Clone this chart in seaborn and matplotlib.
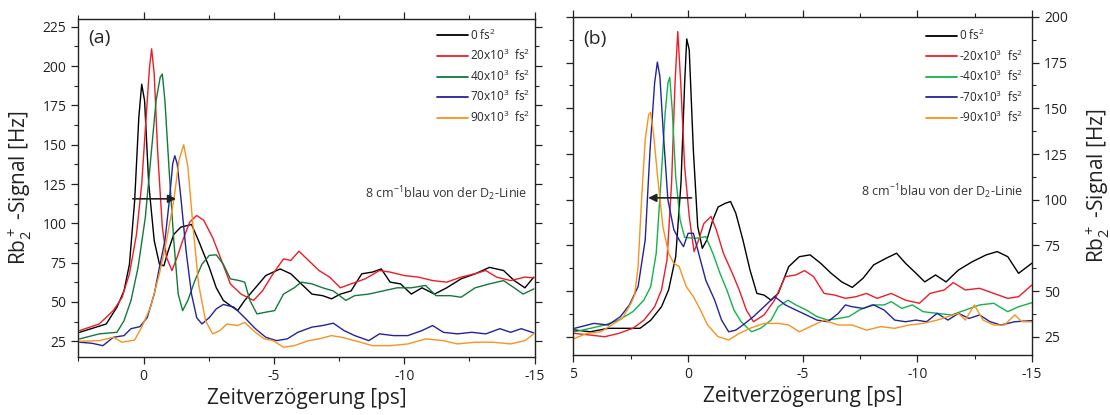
import numpy as np
import pandas as pd
import matplotlib
matplotlib.use("Agg")
import matplotlib.pyplot as plt
from matplotlib.ticker import MultipleLocator
import seaborn as sns

# ---------------- data: panel (a) ----------------
a_labels = ["0 fs$^2$", "20x10$^3$  fs$^2$", "40x10$^3$  fs$^2$", "70x10$^3$  fs$^2$", "90x10$^3$  fs$^2$"]
a_colors = ["#000000", "#ee1c25", "#117a3a", "#23239c", "#f7931e"]

a0_t = [2.45, 1.43, 1.02, 0.75, 0.54, 0.34, 0.18, 0.07, -0.04, -0.2, -0.41, -0.61, -0.78, -0.95, -1.16, -1.43, -1.70, -1.84, -2.11, -2.52, -2.79, -3.06, -3.33, -3.61, -3.88, -4.29, -4.69, -5.24, -5.65, -6.05, -6.46, -6.87, -7.21, -7.55, -7.96, -8.37, -8.78, -9.12, -9.46, -9.86, -10.27, -10.68, -11.16, -11.63, -12.18, -12.72, -13.27, -13.81, -14.22, -14.63, -14.97]
a0_y = [30.7, 36, 46.7, 57, 74, 114.6, 167.7, 188.5, 178, 125, 89, 74, 73, 82.7, 93, 97.6, 98.7, 99.3, 89, 72, 59, 51, 47.7, 44.5, 51, 59, 66.8, 71, 67.9, 61.5, 55, 54, 52, 55, 57, 67.9, 69, 71, 62.6, 61.5, 55, 59, 55, 59, 64.7, 67.9, 72, 70, 63.6, 59, 65.8]

a1_t = [2.45, 1.70, 1.16, 0.82, 0.54, 0.27, 0.07, -0.1, -0.23, -0.31, -0.41, -0.54, -0.72, -0.88, -1.09, -1.29, -1.50, -1.77, -2.04, -2.31, -2.65, -3.0, -3.33, -3.74, -4.22, -4.56, -4.97, -5.37, -5.65, -5.96, -6.33, -6.73, -7.14, -7.55, -7.96, -8.50, -9.05, -9.46, -10.0, -10.54, -11.09, -11.63, -12.18, -12.72, -13.13, -13.54, -14.08, -14.63, -14.97]
a1_y = [31.8, 36, 44.5, 53, 68, 93, 125, 167.7, 199.5, 211, 195, 146, 97.6, 78.5, 70, 78.5, 89, 100.8, 105, 101.9, 91, 76, 61.5, 55, 51, 57, 68, 77.4, 76.4, 82.3, 76.4, 70, 65.8, 59, 61.5, 64.7, 70, 69, 66.8, 65.8, 63.6, 62.6, 65.8, 68, 70, 65.8, 63.6, 65.8, 65.3]

a2_t = [2.45, 1.70, 1.02, 0.75, 0.48, 0.21, -0.07, -0.27, -0.48, -0.64, -0.72, -0.82, -0.99, -1.16, -1.33, -1.50, -1.70, -1.97, -2.24, -2.52, -2.79, -3.06, -3.33, -3.67, -3.88, -4.08, -4.35, -4.69, -5.03, -5.37, -5.78, -6.05, -6.46, -6.87, -7.28, -7.76, -8.10, -8.64, -9.18, -9.73, -10.27, -10.82, -11.22, -11.77, -12.18, -12.72, -13.27, -13.81, -14.22, -14.56, -14.97]
a2_y = [26.5, 29.7, 30.7, 38, 51, 72, 104, 140, 178, 193, 195, 178, 131.6, 89, 55, 44.5, 51, 63.6, 74, 79.6, 80, 74, 64.7, 63.6, 62.6, 51, 42.4, 43.5, 44.5, 55, 59, 62.6, 61.5, 59, 57, 51, 54, 55, 57, 59, 59, 60.5, 54, 54, 53, 59, 61.5, 63.6, 59, 55, 58.3]

a3_t = [2.45, 1.97, 1.56, 1.16, 0.75, 0.48, 0.14, -0.14, -0.41, -0.61, -0.82, -0.99, -1.12, -1.20, -1.29, -1.43, -1.63, -1.84, -2.04, -2.24, -2.52, -2.79, -3.06, -3.47, -3.88, -4.29, -4.69, -5.10, -5.51, -5.92, -6.46, -6.87, -7.28, -7.69, -8.10, -8.64, -9.05, -9.59, -10.14, -10.68, -11.09, -11.50, -12.04, -12.59, -13.13, -13.67, -14.08, -14.49, -14.97]
a3_y = [24.4, 23.7, 22.2, 27.5, 28.6, 33, 34.3, 40, 55, 72, 89, 114.6, 138, 143, 138, 116.7, 82.7, 55, 40, 36, 40, 45.6, 48.4, 46.7, 40, 33, 27.5, 25.4, 26.5, 30.7, 34, 35, 36.5, 31.8, 28.6, 25.4, 29.7, 28.6, 28.6, 31.8, 35, 30.7, 29.7, 30.7, 29.7, 33, 30.7, 33, 30.3]

a4_t = [2.45, 1.70, 1.16, 0.82, 0.34, 0.07, -0.27, -0.61, -0.88, -1.16, -1.36, -1.54, -1.70, -1.90, -2.11, -2.38, -2.65, -2.93, -3.20, -3.61, -3.88, -4.29, -4.63, -4.97, -5.37, -5.78, -6.33, -6.73, -7.21, -7.62, -8.10, -8.78, -9.46, -10.14, -10.82, -11.50, -12.04, -12.72, -13.40, -14.08, -14.63, -14.97]
a4_y = [25, 25.4, 27.5, 24.4, 25.8, 34, 46.7, 68, 89, 114.6, 140, 150, 136, 97.6, 61.5, 38, 29.7, 31.8, 36, 35, 37, 30.7, 26.5, 25.4, 21.2, 22.2, 25.4, 26.5, 28.6, 27.5, 25.4, 22.2, 22.2, 23.3, 26.5, 25.4, 23.3, 24.4, 24.4, 23.3, 25.4, 29.7]

# ---------------- data: panel (b) ----------------
b_labels = ["0 fs$^2$", "-20x10$^3$  fs$^2$", "-40x10$^3$  fs$^2$", "-70x10$^3$  fs$^2$", "-90x10$^3$  fs$^2$"]
b_colors = ["#000000", "#ee1c25", "#13b24a", "#23239c", "#f7931e"]

b0_t = [4.95, 4.26, 3.49, 2.71, 2.10, 1.63, 1.16, 0.85, 0.54, 0.31, 0.15, 0.06, -0.05, -0.23, -0.42, -0.62, -0.82, -1.08, -1.31, -1.62, -1.85, -2.08, -2.39, -2.70, -3.00, -3.31, -3.62, -3.93, -4.39, -4.85, -5.32, -5.78, -6.24, -6.70, -7.16, -7.63, -8.09, -8.63, -9.09, -9.48, -9.94, -10.32, -10.79, -11.25, -11.79, -12.4, -13.0, -13.48, -13.94, -14.41, -14.99]
b0_y = [28.7, 27.7, 29.6, 29.6, 29.6, 34, 41.4, 50.6, 68.8, 109, 163.8, 188, 182, 127, 85.3, 73.4, 78, 89, 96, 98, 99, 92.6, 78, 61.5, 48.7, 47.8, 45, 48.7, 63.4, 68.8, 69.8, 65.2, 59.7, 55, 52, 57, 64.3, 67.9, 70.7, 65.2, 59.7, 55, 58.8, 55, 61.5, 66.1, 69.8, 71.6, 68.8, 59.7, 65.2]

b1_t = [4.95, 4.26, 3.64, 3.03, 2.41, 1.93, 1.46, 1.16, 0.92, 0.72, 0.57, 0.45, 0.32, 0.15, -0.05, -0.26, -0.46, -0.69, -1.0, -1.23, -1.54, -1.93, -2.23, -2.54, -2.85, -3.31, -3.77, -4.24, -4.70, -5.08, -5.47, -5.93, -6.39, -6.86, -7.32, -7.78, -8.24, -8.86, -9.48, -10.09, -10.55, -11.17, -11.56, -12.09, -12.71, -13.33, -13.94, -14.41, -14.99]
b1_y = [26.8, 25.9, 25, 26.8, 29.6, 34, 41.4, 50.6, 67, 109, 163.8, 192, 163.8, 118, 90.8, 71.6, 78, 87, 90.8, 83.5, 70.7, 59.7, 50.6, 39.6, 33.2, 36.9, 45, 57.9, 58.8, 61.2, 57.9, 48.7, 47.8, 46, 46.9, 48.7, 46, 48.7, 45, 43.3, 48.7, 50.6, 54.6, 50.6, 51.5, 48.7, 46, 46.9, 53.3]

b2_t = [4.95, 4.26, 3.64, 3.03, 2.41, 1.93, 1.63, 1.39, 1.19, 1.00, 0.88, 0.80, 0.69, 0.54, 0.35, 0.15, -0.15, -0.46, -0.77, -1.08, -1.39, -1.69, -2.00, -2.31, -2.77, -3.16, -3.62, -3.93, -4.36, -4.70, -5.16, -5.62, -6.09, -6.55, -7.01, -7.47, -8.01, -8.55, -8.86, -9.32, -9.78, -10.25, -10.86, -11.48, -12.09, -12.71, -13.33, -13.94, -14.41, -14.99]
b2_y = [27.7, 29.6, 31.4, 34.1, 38.7, 45, 52.4, 70.7, 109, 147.4, 163.8, 167, 149, 112.7, 89, 79.4, 79, 79, 79.8, 70.7, 59.7, 50.6, 39.6, 33.2, 27.7, 29.6, 34.1, 41.4, 45, 42.4, 39.6, 36, 34.1, 35, 36, 39.6, 42.4, 42.4, 44.2, 40.5, 42.4, 38.7, 37.8, 36.9, 39.6, 42.4, 43.3, 38.7, 41.4, 43.6]

b3_t = [4.95, 4.11, 3.49, 2.95, 2.56, 2.18, 1.87, 1.66, 1.46, 1.34, 1.23, 1.08, 0.88, 0.62, 0.39, 0.2, 0.0, -0.23, -0.46, -0.77, -1.16, -1.46, -1.77, -2.08, -2.39, -2.85, -3.47, -3.77, -4.24, -4.70, -5.16, -5.62, -6.09, -6.55, -6.86, -7.16, -7.63, -8.09, -8.55, -9.01, -9.48, -9.94, -10.40, -10.86, -11.33, -11.79, -12.25, -12.71, -13.17, -13.63, -14.25, -14.99]
b3_y = [29.6, 32.3, 31.4, 36, 42.4, 52.4, 78, 127, 163.8, 175.3, 167.5, 136.4, 99.9, 83.5, 78, 74.3, 81.6, 81.6, 70.7, 56, 45, 34.1, 27.7, 28.6, 31.4, 36, 43.3, 47, 42.4, 39.6, 36.9, 34.1, 33.2, 37.8, 42.4, 41.4, 40.5, 42.4, 39.6, 34.1, 33.2, 34.1, 33.2, 37.8, 34.1, 37.8, 35, 36.9, 33.2, 31.4, 33.2, 33.8]

b4_t = [4.95, 4.41, 3.80, 3.34, 2.87, 2.49, 2.33, 2.18, 2.03, 1.87, 1.72, 1.64, 1.51, 1.33, 1.10, 0.85, 0.62, 0.39, 0.08, -0.23, -0.54, -0.85, -1.31, -1.77, -2.23, -2.70, -3.31, -3.93, -4.39, -4.85, -5.32, -5.93, -6.55, -7.16, -7.78, -8.40, -9.01, -9.63, -10.25, -10.86, -11.33, -11.79, -12.09, -12.48, -12.86, -13.33, -13.79, -14.25, -14.56, -14.99]
b4_y = [24.1, 26.8, 27.7, 31.4, 35, 43.3, 47.8, 63.4, 99.9, 132.8, 146.5, 147.8, 136.4, 112.7, 85.3, 70.7, 65.2, 63.4, 52.4, 47, 39.6, 31.4, 25, 23.2, 26.8, 29.6, 32.3, 32.3, 31.4, 27.7, 30.5, 34.1, 31.4, 31.4, 28.6, 30.5, 29.6, 31.4, 32.3, 34.1, 36, 37.8, 34.1, 42.4, 34.1, 31.4, 31.4, 36.9, 33.2, 33.2]

note_text = "8 cm$^{-1}$blau von der D$_2$-Linie"
xlabel_text = "Zeitverzögerung [ps]"
ylabel_text = "Rb$_2^+$ -Signal [Hz]"

# ---------------- style ----------------
sns.set_theme(style="ticks")
plt.rcParams["font.family"] = ["Open Sans", "DejaVu Sans"]
plt.rcParams["mathtext.fontset"] = "custom"
plt.rcParams["mathtext.rm"] = "Open Sans"
plt.rcParams["mathtext.it"] = "Open Sans"
plt.rcParams["mathtext.default"] = "regular"
plt.rcParams["axes.unicode_minus"] = False
plt.rcParams["axes.linewidth"] = 1.0
plt.rcParams["axes.edgecolor"] = "#222222"

def make_df(ts, ys, labels):
    rows = []
    for t, y, lab in zip(ts, ys, labels):
        rows.append(pd.DataFrame({"t": t, "signal": y, "series": lab}))
    return pd.concat(rows, ignore_index=True)

df_a = make_df([a0_t, a1_t, a2_t, a3_t, a4_t], [a0_y, a1_y, a2_y, a3_y, a4_y], a_labels)
df_b = make_df([b0_t, b1_t, b2_t, b3_t, b4_t], [b0_y, b1_y, b2_y, b3_y, b4_y], b_labels)

fig = plt.figure(figsize=(11.1, 4.15), dpi=100)
ax1 = fig.add_axes([0.0706, 0.1398, 0.4110, 0.8145])
ax2 = fig.add_axes([0.5166, 0.1446, 0.4132, 0.8145])

def style_axis(ax):
    ax.tick_params(which="both", direction="out", top=True, right=True, labelsize=10, colors="#222222")
    ax.tick_params(which="major", length=5, width=0.9)
    ax.tick_params(which="minor", length=3, width=0.8)
    ax.xaxis.set_major_locator(MultipleLocator(5))
    ax.xaxis.set_minor_locator(MultipleLocator(2.5))
    ax.yaxis.set_major_locator(MultipleLocator(25))
    ax.yaxis.set_minor_locator(MultipleLocator(12.5))
    ax.set_xlabel(xlabel_text, fontsize=15, color="#222222", labelpad=3)

def legend(ax, anchor):
    h, l = ax.get_legend_handles_labels()
    lg = ax.legend(h, l, loc="upper left", bbox_to_anchor=anchor, frameon=False,
                   fontsize=8.5, handlelength=2.6, handletextpad=0.15,
                   labelspacing=0.45, borderpad=0, borderaxespad=0)
    for line in lg.get_lines():
        line.set_linewidth(1.3)

# panel a
sns.lineplot(data=df_a, x="t", y="signal", hue="series", hue_order=a_labels,
             palette=a_colors, estimator=None, linewidth=1.0, ax=ax1)
ax1.set_xlim(2.5, -15)
ax1.set_ylim(15, 230)
style_axis(ax1)
ax1.set_ylabel(ylabel_text, fontsize=15, color="#222222", labelpad=6)
legend(ax1, (0.787, 0.975))
ax1.text(0.022, 0.97, "(a)", transform=ax1.transAxes, fontsize=14, va="top", ha="left")
ax1.text(0.983, 0.484, note_text, transform=ax1.transAxes, fontsize=9, va="center", ha="right", color="#333333")
ax1.annotate("", xy=(-1.25, 115.6), xytext=(0.41, 115.6),
             arrowprops=dict(arrowstyle="-|>", color="#222222", lw=1.2, mutation_scale=12, shrinkA=0, shrinkB=0))

# panel b
sns.lineplot(data=df_b, x="t", y="signal", hue="series", hue_order=b_labels,
             palette=b_colors, estimator=None, linewidth=1.0, ax=ax2)
ax2.set_xlim(5, -15)
ax2.set_ylim(15, 200)
style_axis(ax2)
ax2.yaxis.tick_right()
ax2.tick_params(which="both", left=True, right=True, labelleft=False, labelright=True)
ax2.yaxis.set_label_position("right")
ax2.set_ylabel(ylabel_text, fontsize=15, color="#222222", labelpad=12)
legend(ax2, (0.769, 0.968))
ax2.text(0.0216, 0.962, "(b)", transform=ax2.transAxes, fontsize=14, va="top", ha="left")
ax2.text(0.981, 0.484, note_text, transform=ax2.transAxes, fontsize=9, va="center", ha="right", color="#333333")
ax2.annotate("", xy=(1.74, 101), xytext=(-0.15, 101),
             arrowprops=dict(arrowstyle="-|>", color="#222222", lw=1.2, mutation_scale=12, shrinkA=0, shrinkB=0))

fig.savefig("out.png", dpi=100)
